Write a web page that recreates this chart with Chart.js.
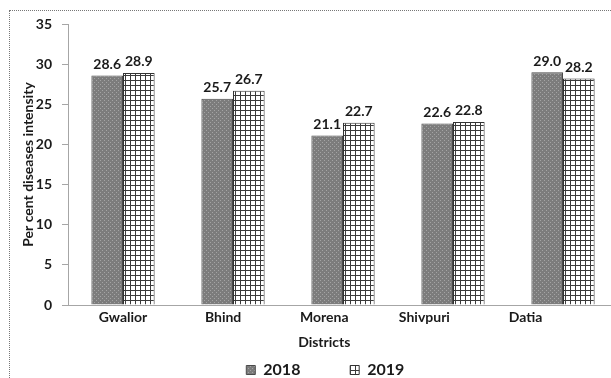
<!DOCTYPE html>
<html lang="en">
<head>
  <meta charset="UTF-8">
  <title>Per cent diseases intensity by district</title>
  <script src="https://cdn.jsdelivr.net/npm/chart.js"></script>
  <style>
    html, body {
      margin: 0;
      padding: 0;
      background: #fff;
      overflow: hidden;
      width: 611px;
      height: 378px;
    }
    .frame {
      position: absolute;
      left: 9px;
      top: 10px;
      width: 700px;
      height: 400px;
      border: 1px dotted #777;
    }
    .chart-box {
      position: absolute;
      left: 0;
      top: 0;
      width: 630px;
      height: 390px;
    }
  </style>
</head>
<body>
  <div class="frame"></div>
  <div class="chart-box">
    <canvas id="districtChart" width="630" height="390"></canvas>
  </div>

  <script>
    const districts = ["Gwalior", "Bhind", "Morena", "Shivpuri", "Datia"];
    const pdi2018 = [28.6, 25.7, 21.1, 22.6, 29.0];
    const pdi2019 = [28.9, 26.7, 22.7, 22.8, 28.2];
    const yTicks = [0, 5, 10, 15, 20, 25, 30, 35];
    // the district names sit a little tighter than the bar groups in the original
    const labelSlots = [0, 0.91, 1.83, 2.74, 3.66];

    // stippled grey fill for 2018
    function dotPattern() {
      const c = document.createElement('canvas');
      c.width = 4; c.height = 4;
      const g = c.getContext('2d');
      g.fillStyle = '#7c7c7c';
      g.fillRect(0, 0, 4, 4);
      g.fillStyle = '#a4a4a4';
      g.fillRect(0, 0, 1, 1);
      g.fillRect(2, 2, 1, 1);
      return g.createPattern(c, 'repeat');
    }

    // small square grid for 2019
    function gridPattern() {
      const c = document.createElement('canvas');
      c.width = 5; c.height = 5;
      const g = c.getContext('2d');
      g.fillStyle = '#ffffff';
      g.fillRect(0, 0, 5, 5);
      g.fillStyle = '#3a3a3a';
      g.fillRect(0, 0, 5, 1);
      g.fillRect(0, 0, 1, 5);
      return g.createPattern(c, 'repeat');
    }

    const FONT = 'Lato, "Open Sans", sans-serif';
    const INK = '#1a1a1a';
    const AXIS = '#a6a6a6';

    const valueLabels = {
      id: 'valueLabels',
      afterDatasetsDraw(chart) {
        const ctx = chart.ctx;
        ctx.save();
        ctx.font = 'bold 14px ' + FONT;
        ctx.fillStyle = INK;
        ctx.textAlign = 'center';
        ctx.textBaseline = 'bottom';
        chart.data.datasets.forEach((ds, i) => {
          chart.getDatasetMeta(i).data.forEach((bar, j) => {
            ctx.fillText(ds.data[j].toFixed(1), bar.x, bar.y - 4);
          });
        });
        ctx.restore();
      }
    };

    function namesMid(chart) {
      const s = chart.scales.names;
      return (s.getPixelForValue(labelSlots[0]) + s.getPixelForValue(labelSlots[labelSlots.length - 1])) / 2;
    }

    // "Districts" title and legend centred under the district names, plus the x axis line
    const centreUnderNames = {
      id: 'centreUnderNames',
      afterLayout(chart) {
        const lg = chart.legend;
        const pad = lg.options.labels.padding;
        const d = namesMid(chart) + 4 - (lg.left + pad + lg.right) / 2;
        lg.left += d;
        lg.right += d;
      },
      afterDraw(chart) {
        const s = chart.scales.names;
        const ctx = chart.ctx;
        ctx.save();
        ctx.strokeStyle = AXIS;
        ctx.lineWidth = 1;
        ctx.beginPath();
        ctx.moveTo(chart.chartArea.left - 6, Math.round(chart.chartArea.bottom) + 0.5);
        ctx.lineTo(chart.width, Math.round(chart.chartArea.bottom) + 0.5);
        ctx.stroke();
        ctx.font = 'bold 14px ' + FONT;
        ctx.fillStyle = INK;
        ctx.textAlign = 'center';
        ctx.textBaseline = 'middle';
        ctx.fillText('Districts', namesMid(chart), s.top + 37);
        ctx.restore();
      }
    };

    const ctx = document.getElementById('districtChart').getContext('2d');
    const chart = new Chart(ctx, {
      type: 'bar',
      data: {
        labels: districts,
        datasets: [
          {
            label: '2018',
            data: pdi2018,
            backgroundColor: dotPattern(),
            borderColor: '#4a4a4a',
            borderWidth: 1,
            categoryPercentage: 0.575,
            barPercentage: 1.0
          },
          {
            label: '2019',
            data: pdi2019,
            backgroundColor: gridPattern(),
            borderColor: '#333333',
            borderWidth: 1,
            categoryPercentage: 0.575,
            barPercentage: 1.0
          }
        ]
      },
      options: {
        responsive: false,
        animation: false,
        layout: { padding: { left: 20, right: 12, top: 24, bottom: 2 } },
        scales: {
          x: {
            weight: 2,
            afterFit: axis => { axis.height = 0; },
            grid: { display: false, drawTicks: false },
            border: { display: false },
            ticks: { display: false }
          },
          names: {
            type: 'linear',
            position: 'bottom',
            weight: 1,
            offset: false,
            min: -0.5,
            max: 4.5,
            afterBuildTicks: axis => { axis.ticks = labelSlots.map(v => ({ value: v })); },
            afterFit: axis => { axis.height = 51; },
            grid: { display: false, drawTicks: false, offset: false },
            border: { display: false },
            ticks: {
              color: INK,
              font: { family: FONT, size: 14, weight: 'bold' },
              padding: 4,
              autoSkip: false,
              maxRotation: 0,
              callback: (v, i) => districts[i]
            }
          },
          y: {
            min: 0,
            max: 35,
            afterBuildTicks: axis => { axis.ticks = yTicks.map(v => ({ value: v })); },
            afterFit: axis => { axis.width = 48; },
            grid: {
              display: true,
              drawOnChartArea: false,
              drawTicks: true,
              tickLength: 6,
              color: AXIS
            },
            border: { color: AXIS, width: 1 },
            ticks: {
              color: INK,
              font: { family: FONT, size: 14, weight: 'bold' },
              padding: 10
            },
            title: {
              display: true,
              text: 'Per cent diseases intensity',
              color: INK,
              font: { family: FONT, size: 14, weight: 'bold' },
              padding: { top: 0, bottom: 2 }
            }
          }
        },
        plugins: {
          legend: {
            position: 'bottom',
            labels: {
              color: INK,
              font: { family: FONT, size: 16, weight: 'bold' },
              boxWidth: 9,
              boxHeight: 9,
              padding: 6,
              generateLabels: chart => {
                const items = Chart.defaults.plugins.legend.labels.generateLabels(chart);
                items[0].text += '\u2003\u2003\u2003  ';
                return items;
              }
            }
          },
          tooltip: { enabled: false }
        }
      },
      plugins: [valueLabels, centreUnderNames]
    });
  </script>
</body>
</html>
